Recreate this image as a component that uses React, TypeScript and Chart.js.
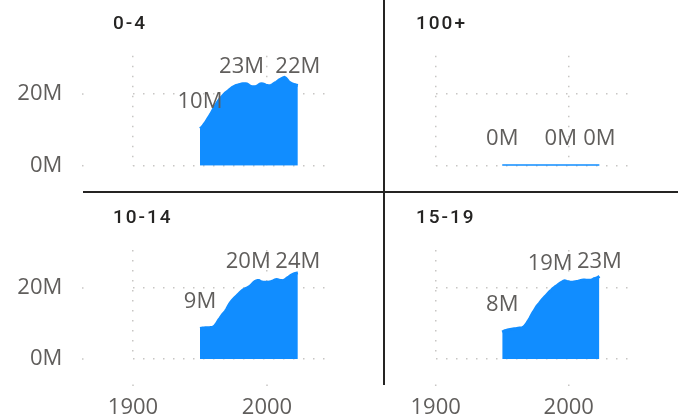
import React, { useEffect, useRef } from "react";
import { Chart, registerables } from "chart.js";

Chart.register(...registerables);

// ---------- data ----------
const YEARS = [
  1950, 1951, 1952, 1953, 1954, 1955, 1956, 1957, 1958, 1959,
  1960, 1961, 1962, 1963, 1964, 1965, 1966, 1967, 1968, 1969,
  1970, 1971, 1972, 1973, 1974, 1975, 1976, 1977, 1978, 1979,
  1980, 1981, 1982, 1983, 1984, 1985, 1986, 1987, 1988, 1989,
  1990, 1991, 1992, 1993, 1994, 1995, 1996, 1997, 1998, 1999,
  2000, 2001, 2002, 2003, 2004, 2005, 2006, 2007, 2008, 2009,
  2010, 2011, 2012, 2013, 2014, 2015, 2016, 2017, 2018, 2019,
  2020, 2021, 2022, 2023,
];

// population in millions
const AGE_0_4 = [
  10.35, 10.6, 11.0, 11.5, 12.0, 12.6, 13.2, 13.8, 14.4, 15.1,
  15.8, 16.5, 17.1, 17.7, 18.2, 18.7, 19.1, 19.5, 19.9, 20.3,
  20.6, 20.9, 21.2, 21.5, 21.8, 22.0, 22.2, 22.4, 22.5, 22.6,
  22.7, 22.8, 22.9, 22.9, 22.85, 22.8, 22.6, 22.3, 22.1, 22.0,
  22.0, 22.0, 22.1, 22.3, 22.6, 22.8, 22.85, 22.8, 22.7, 22.5,
  22.4, 22.3, 22.3, 22.4, 22.6, 22.9, 23.1, 23.3, 23.6, 23.9,
  24.1, 24.3, 24.5, 24.65, 24.4, 24.0, 23.5, 23.2, 23.0, 22.8,
  22.7, 22.6, 22.5, 22.4,
];

const AGE_100_PLUS = [
  0.002, 0.002, 0.002, 0.002, 0.002, 0.002, 0.002, 0.002, 0.002, 0.002,
  0.002, 0.002, 0.003, 0.003, 0.003, 0.003, 0.003, 0.003, 0.003, 0.003,
  0.003, 0.003, 0.003, 0.003, 0.004, 0.004, 0.004, 0.004, 0.004, 0.004,
  0.004, 0.004, 0.004, 0.005, 0.005, 0.005, 0.005, 0.005, 0.005, 0.006,
  0.006, 0.006, 0.006, 0.006, 0.007, 0.007, 0.007, 0.007, 0.008, 0.008,
  0.008, 0.008, 0.009, 0.009, 0.009, 0.010, 0.010, 0.010, 0.011, 0.011,
  0.012, 0.012, 0.012, 0.013, 0.013, 0.014, 0.014, 0.015, 0.015, 0.016,
  0.016, 0.017, 0.017, 0.018,
];

const AGE_10_14 = [
  8.6, 8.65, 8.7, 8.75, 8.8, 8.8, 8.8, 8.8, 8.85, 8.9,
  9.0, 9.3, 9.8, 10.4, 11.0, 11.5, 12.1, 12.6, 13.0, 13.5,
  14.1, 14.8, 15.5, 16.0, 16.5, 16.9, 17.3, 17.6, 18.0, 18.4,
  18.8, 19.1, 19.4, 19.6, 19.8, 20.0, 20.2, 20.4, 20.7, 21.1,
  21.5, 21.8, 22.0, 22.1, 22.1, 21.9, 21.7, 21.6, 21.6, 21.6,
  21.6, 21.6, 21.7, 21.8, 21.9, 22.1, 22.3, 22.4, 22.3, 22.2,
  22.1, 22.1, 22.0, 22.2, 22.5, 22.8, 23.0, 23.3, 23.6, 23.8,
  24.0, 24.1, 24.2, 24.3,
];

const AGE_15_19 = [
  7.6, 7.8, 7.95, 8.05, 8.15, 8.25, 8.35, 8.4, 8.45, 8.5,
  8.55, 8.6, 8.65, 8.7, 8.75, 8.8, 9.0, 9.35, 9.8, 10.4,
  11.0, 11.6, 12.3, 13.0, 13.6, 14.2, 14.8, 15.3, 15.7, 16.2,
  16.7, 17.1, 17.5, 17.9, 18.3, 18.7, 19.1, 19.4, 19.8, 20.1,
  20.4, 20.6, 20.9, 21.2, 21.5, 21.7, 21.9, 22.0, 21.9, 21.8,
  21.7, 21.6, 21.6, 21.6, 21.7, 21.8, 21.85, 21.9, 22.0, 22.1,
  22.2, 22.25, 22.25, 22.2, 22.2, 22.15, 22.15, 22.2, 22.4, 22.6,
  22.7, 22.8, 23.0, 23.3,
];

// years that carry a data label in each panel
const LABELS_0_4 = [1950, 1981, 2023];
const LABELS_100_PLUS = [1950, 1994, 2023];
const LABELS_10_14 = [1950, 1986, 2023];
const LABELS_15_19 = [1950, 1986, 2023];

const X_MIN = 1900;
const X_MAX = 2048.5;
const X_STEP = 100;
const Y_MIN = 0;
const Y_MAX = 30.7;
const Y_STEP = 20;

// ---------- styles ----------
const BLUE = "#118DFF";
const TEXT_GRAY = "#605E5C";
const DARK = "#252423";
const GRID = "#C8C6C4";
const NUM_FONT = '"Segoe UI", "Open Sans", sans-serif';
const TITLE_FONT = 'Roboto, "DejaVu Sans", sans-serif';
const NUM_SIZE = 22;

type PanelProps = {
  title: string;
  values: number[];
  labelYears: number[];
  showX: boolean;
  showY: boolean;
  left: number;
  top: number;
  width: number;
  height: number;
  areaLeft: number;
  areaRight: number;
  areaTop: number;
  areaBottom: number;
  titleLeft: number;
  titleTop: number;
};

const dataLabelPlugin = {
  id: "pbiDataLabels",
  afterDatasetsDraw(chart: any, _args: any, opts: any) {
    const meta = chart.getDatasetMeta(0);
    const ds = chart.data.datasets[0];
    const years: number[] = opts.years || [];
    const { ctx, chartArea } = chart;
    ctx.save();
    ctx.font = `${NUM_SIZE}px ${NUM_FONT}`;
    ctx.fillStyle = TEXT_GRAY;
    ctx.textAlign = "center";
    ctx.textBaseline = "middle";
    years.forEach((yr) => {
      const idx = YEARS.indexOf(yr);
      if (idx < 0) return;
      const el = meta.data[idx];
      const v = ds.data[idx].y;
      const y = Math.max(el.y - 27, chartArea.top + 11.5);
      ctx.fillText(`${Math.round(v)}M`, el.x, y);
    });
    ctx.restore();
  },
};

// small grid-extension dots in the tick areas (Power BI style)
const tickDotPlugin = {
  id: "tickDots",
  afterDraw(chart: any, _args: any, opts: any) {
    const { ctx, chartArea, scales } = chart;
    ctx.save();
    ctx.fillStyle = GRID;
    if (opts.showY) {
      scales.y.ticks.forEach((t: any) => {
        const py = scales.y.getPixelForValue(t.value);
        ctx.fillRect(chartArea.left - 51, py - 0.75, 1.5, 1.5);
      });
    }
    if (opts.showX) {
      scales.x.ticks.forEach((t: any) => {
        const px = scales.x.getPixelForValue(t.value);
        ctx.fillRect(px - 0.75, chartArea.bottom + 25.5, 1.5, 1.5);
      });
    }
    ctx.restore();
  },
};

function Panel(p: PanelProps) {
  const ref = useRef<HTMLCanvasElement | null>(null);
  useEffect(() => {
    if (!ref.current) return;
    const yLabelGap = p.areaLeft - 62.3;
    const xLabelGap = 36;
    const chart = new Chart(ref.current, {
      type: "line",
      data: {
        datasets: [
          {
            data: YEARS.map((yr, i) => ({ x: yr, y: p.values[i] })),
            borderColor: BLUE,
            backgroundColor: BLUE,
            borderWidth: 3,
            fill: "origin",
            pointRadius: 0,
            tension: 0,
            clip: 0,
          },
        ],
      },
      options: {
        responsive: false,
        animation: false,
        events: [],
        layout: {
          padding: {
            top: p.areaTop,
            right: p.width - p.areaRight,
            left: 0,
            bottom: 0,
          },
        },
        plugins: {
          legend: { display: false },
          tooltip: { enabled: false },
          title: { display: false },
          pbiDataLabels: { years: p.labelYears },
          tickDots: { showX: p.showX, showY: p.showY },
        } as any,
        scales: {
          x: {
            type: "linear",
            min: X_MIN,
            max: X_MAX,
            afterFit: (s: any) => {
              s.height = p.height - p.areaBottom;
            },
            ticks: {
              display: p.showX,
              stepSize: X_STEP,
              includeBounds: false,
              padding: 0,
              color: TEXT_GRAY,
              font: { family: NUM_FONT, size: NUM_SIZE },
              maxRotation: 0,
              callback: (v: any) => String(v),
            },
            grid: {
              color: GRID,
              lineWidth: 1.5,
              drawTicks: p.showX,
              tickLength: xLabelGap,
              tickColor: "rgba(0,0,0,0)",
            },
            border: { display: false, dash: [1.5, 8.5] },
          },
          y: {
            type: "linear",
            min: Y_MIN,
            max: Y_MAX,
            afterFit: (s: any) => {
              s.width = p.areaLeft;
            },
            ticks: {
              display: p.showY,
              stepSize: Y_STEP,
              includeBounds: false,
              padding: 0,
              color: TEXT_GRAY,
              font: { family: NUM_FONT, size: NUM_SIZE },
              callback: (v: any) => `${v}M`,
            },
            grid: {
              color: GRID,
              lineWidth: 1.5,
              drawTicks: p.showY,
              tickLength: yLabelGap,
              tickColor: "rgba(0,0,0,0)",
            },
            border: { display: false, dash: [1.5, 8.5] },
          },
        },
      } as any,
      plugins: [dataLabelPlugin, tickDotPlugin],
    });
    return () => chart.destroy();
  }, []);

  return (
    <>
      <canvas
        ref={ref}
        width={p.width}
        height={p.height}
        style={{
          position: "absolute",
          left: p.left,
          top: p.top,
          width: p.width,
          height: p.height,
        }}
      />
      <div
        style={{
          position: "absolute",
          left: p.titleLeft,
          top: p.titleTop,
          fontFamily: TITLE_FONT,
          fontWeight: 500,
          fontSize: 19,
          lineHeight: "19px",
          letterSpacing: "2px",
          color: DARK,
          whiteSpace: "nowrap",
        }}
      >
        {p.title}
      </div>
    </>
  );
}

export default function App() {
  return (
    <div
      style={{
        position: "absolute",
        left: 0,
        top: 0,
        width: 678,
        height: 419,
        background: "#fff",
        overflow: "hidden",
      }}
    >
      <Panel
        title="0-4"
        values={AGE_0_4}
        labelYears={LABELS_0_4}
        showX={false}
        showY={true}
        left={0}
        top={0}
        width={383}
        height={190}
        areaLeft={133}
        areaRight={332}
        areaTop={55.7}
        areaBottom={165.7}
        titleLeft={113}
        titleTop={13}
      />
      <Panel
        title="100+"
        values={AGE_100_PLUS}
        labelYears={LABELS_100_PLUS}
        showX={false}
        showY={false}
        left={384}
        top={0}
        width={294}
        height={190}
        areaLeft={51.7}
        areaRight={249.3}
        areaTop={55.7}
        areaBottom={165.7}
        titleLeft={416}
        titleTop={13}
      />
      <Panel
        title="10-14"
        values={AGE_10_14}
        labelYears={LABELS_10_14}
        showX={true}
        showY={true}
        left={0}
        top={192}
        width={383}
        height={227}
        areaLeft={133}
        areaRight={332}
        areaTop={58}
        areaBottom={167}
        titleLeft={113}
        titleTop={207}
      />
      <Panel
        title="15-19"
        values={AGE_15_19}
        labelYears={LABELS_15_19}
        showX={true}
        showY={false}
        left={384}
        top={192}
        width={294}
        height={227}
        areaLeft={51.7}
        areaRight={249.3}
        areaTop={58}
        areaBottom={167}
        titleLeft={416}
        titleTop={207}
      />
      {/* dividers */}
      <div
        style={{
          position: "absolute",
          left: 83,
          top: 191,
          width: 595,
          height: 2,
          background: DARK,
        }}
      />
      <div
        style={{
          position: "absolute",
          left: 383,
          top: 0,
          width: 2,
          height: 385,
          background: DARK,
        }}
      />
    </div>
  );
}
